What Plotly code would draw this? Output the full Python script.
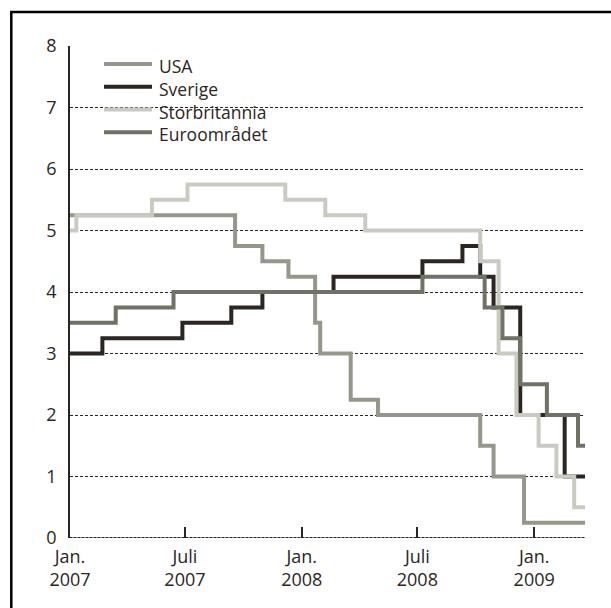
import plotly.graph_objects as go

# ---------------- data ----------------
series_names = ["USA", "Sverige", "Storbritannia", "Euroområdet"]
series_colors = ["#96978b", "#2b2622", "#c9cbc1", "#6f7265"]

end_date = "2009-03-22"

usa_dates = ["2007-01-01", "2007-09-18", "2007-10-31", "2007-12-11", "2008-01-22",
             "2008-01-30", "2008-03-18", "2008-04-30", "2008-10-08", "2008-10-29",
             "2008-12-16", end_date]
usa_rates = [5.25, 4.75, 4.50, 4.25, 3.50, 3.00, 2.25, 2.00, 1.50, 1.00, 0.25, 0.25]

sve_dates = ["2007-01-01", "2007-02-21", "2007-06-27", "2007-09-12", "2007-10-31",
             "2008-02-20", "2008-07-09", "2008-09-10", "2008-10-08", "2008-10-29",
             "2008-12-10", "2009-02-18", end_date]
sve_rates = [3.00, 3.25, 3.50, 3.75, 4.00, 4.25, 4.50, 4.75, 4.25, 3.75, 2.00, 1.00, 1.00]

gbr_dates = ["2007-01-01", "2007-01-11", "2007-05-10", "2007-07-05", "2007-12-06",
             "2008-02-07", "2008-04-10", "2008-10-08", "2008-11-06", "2008-12-04",
             "2009-01-08", "2009-02-05", "2009-03-05", end_date]
gbr_rates = [5.00, 5.25, 5.50, 5.75, 5.50, 5.25, 5.00, 4.50, 3.00, 2.00, 1.50, 1.00, 0.50, 0.50]

eur_dates = ["2007-01-01", "2007-03-14", "2007-06-13", "2008-07-09", "2008-10-15",
             "2008-11-12", "2008-12-10", "2009-01-21", "2009-03-11", end_date]
eur_rates = [3.50, 3.75, 4.00, 4.25, 3.75, 3.25, 2.50, 2.00, 1.50, 1.50]

x_tickvals = ["2007-01-01", "2007-07-01", "2008-01-01", "2008-07-01", "2009-01-01"]
x_ticktext = ["Jan.<br>2007", "Juli<br>2007", "Jan.<br>2008", "Juli<br>2008", "Jan.<br>2009"]
y_tickvals = [0, 1, 2, 3, 4, 5, 6, 7, 8]

all_dates = [usa_dates, sve_dates, gbr_dates, eur_dates]
all_rates = [usa_rates, sve_rates, gbr_rates, eur_rates]

# ---------------- layout geometry ----------------
FIG_W, FIG_H = 611, 608
L, R, T, B = 70, 26, 46, 70
PW, PH = FIG_W - L - R, FIG_H - T - B
FONT = "Open Sans"
TXT = "#2a2623"
LEG_FONT = 17.5
LEG_STEP = LEG_FONT * 1.3
LEG_TOP = 98 - 1.5 * LEG_STEP  # centre of the first legend row (px)


def px2x(px):
    return (px - L) / PW


def px2y(py):
    return (T + PH - py) / PH


fig = go.Figure()
for name, color, d, r in zip(series_names, series_colors, all_dates, all_rates):
    fig.add_trace(go.Scatter(x=d, y=r, mode="lines", name=name,
                             line=dict(color=color, width=4, shape="hv"),
                             showlegend=False, hoverinfo="skip"))

shapes = []
# outer frame (top and left only)
shapes.append(dict(type="line", xref="paper", yref="paper",
                   x0=px2x(10), x1=px2x(FIG_W + 5), y0=px2y(12), y1=px2y(12),
                   line=dict(color="black", width=2.5), layer="above"))
shapes.append(dict(type="line", xref="paper", yref="paper",
                   x0=px2x(11.3), x1=px2x(11.3), y0=px2y(11), y1=px2y(FIG_H + 5),
                   line=dict(color="black", width=2.5), layer="above"))
# baseline at 0
shapes.append(dict(type="line", xref="paper", yref="y", x0=0, x1=1, y0=0, y1=0,
                   line=dict(color="#8a8a86", width=2), layer="between"))
shapes.append(dict(type="line", xref="paper", yref="y", x0=0, x1=1, y0=0, y1=0,
                   line=dict(color="#2a2623", width=2, dash="2px,2px"), layer="between"))
# legend background
shapes.append(dict(type="rect", xref="paper", yref="paper",
                   x0=px2x(97), x1=px2x(280), y0=px2y(54), y1=px2y(143),
                   fillcolor="white", line=dict(width=0), layer="between"))

# legend samples
for i, color in enumerate(series_colors):
    row = LEG_TOP + i * LEG_STEP
    shapes.append(dict(type="line", xref="paper", yref="paper",
                       x0=px2x(104), x1=px2x(152), y0=px2y(row), y1=px2y(row),
                       line=dict(color=color, width=4), layer="above"))

mid = LEG_TOP + 1.5 * LEG_STEP
annotations = [dict(x=px2x(158), y=px2y(mid + 1.5), xref="paper", yref="paper",
                    text="<br>".join(series_names), showarrow=False,
                    xanchor="left", yanchor="middle", align="left", borderpad=0,
                    font=dict(family=FONT, size=LEG_FONT, color=TXT))]

fig.update_layout(
    width=FIG_W, height=FIG_H,
    margin=dict(l=L, r=R, t=T, b=B, pad=0),
    paper_bgcolor="white", plot_bgcolor="white",
    font=dict(family=FONT, size=18, color=TXT),
    showlegend=False,
    shapes=shapes, annotations=annotations,
    xaxis=dict(type="date", range=["2007-01-01", end_date],
               tickvals=x_tickvals, ticktext=x_ticktext,
               ticks="inside", ticklen=11, tickwidth=1.5, tickcolor="#2a2623",
               showgrid=False, showline=False, zeroline=False,
               tickfont=dict(family=FONT, size=18, color=TXT),
               ticklabelstandoff=6),
    yaxis=dict(range=[0, 8], tickvals=y_tickvals,
               showgrid=True, gridcolor="#2a2623", gridwidth=1, griddash="3px,2px",
               showline=True, linecolor="#2a2623", linewidth=1.5,
               zeroline=False, ticks="",
               tickfont=dict(family=FONT, size=18, color=TXT),
               ticklabelstandoff=8),
)

fig.write_html("out.html", config={"displayModeBar": False},
               post_script="document.body.style.margin='0px';")
